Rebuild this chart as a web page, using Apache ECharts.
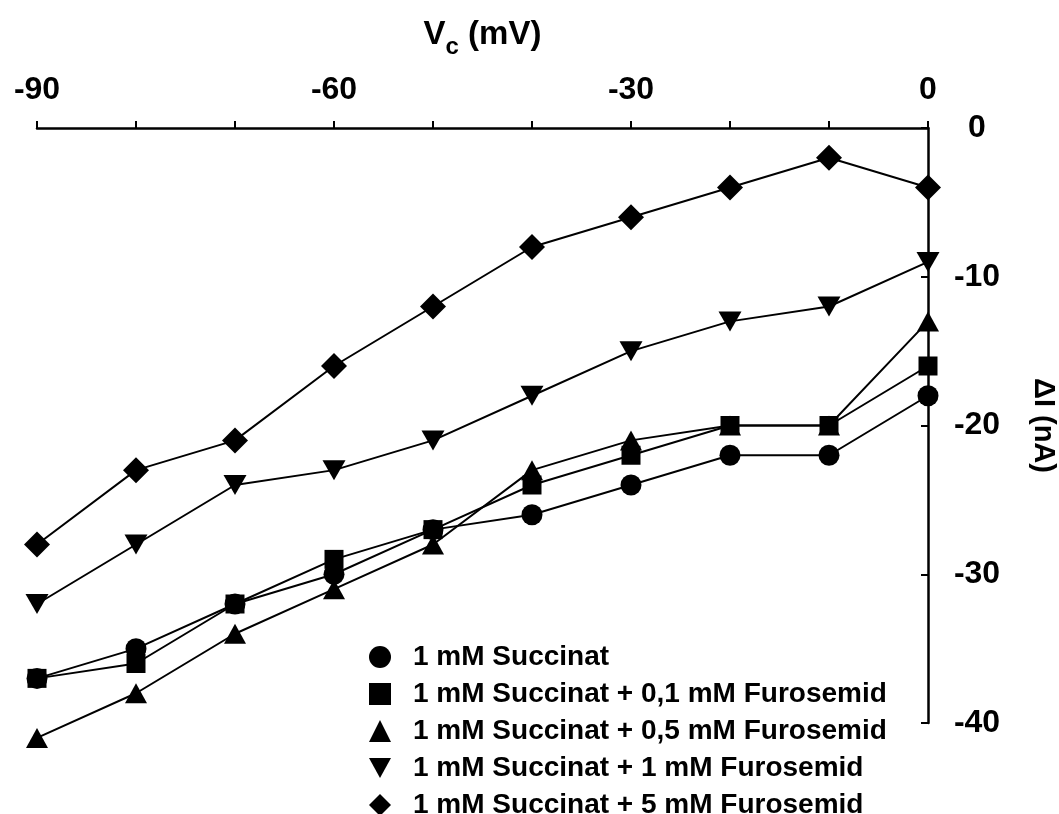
<!DOCTYPE html>
<html>
<head>
<meta charset="utf-8">
<script src="https://cdn.jsdelivr.net/npm/echarts@6/dist/echarts.min.js"></script>
<style>
html,body{margin:0;padding:0;background:#fff;}
#chart{width:1059px;height:814px;}
</style>
</head>
<body>
<div id="chart"></div>
<script>
// Data
const vc = [-90, -80, -70, -60, -50, -40, -30, -20, -10, 0];
const succinat = [-37, -35, -32, -30, -27, -26, -24, -22, -22, -18];
const furo01 = [-37, -36, -32, -29, -27, -24, -22, -20, -20, -16];
const furo05 = [-41, -38, -34, -31, -28, -23, -21, -20, -20, -13];
const furo1 = [-32, -28, -24, -23, -21, -18, -15, -13, -12, -9];
const furo5 = [-28, -23, -21, -16, -12, -8, -6, -4, -2, -4];
const seriesNames = [
  '1 mM Succinat',
  '1 mM Succinat + 0,1 mM Furosemid',
  '1 mM Succinat + 0,5 mM Furosemid',
  '1 mM Succinat + 1 mM Furosemid',
  '1 mM Succinat + 5 mM Furosemid'
];
const seriesValues = [succinat, furo01, furo05, furo1, furo5];
const symbols = ['circle', 'rect', 'triangle', 'path://M0,0 L10,0 L5,9 Z', 'diamond'];
const symbolSizes = [21, 19, [22, 20], [23, 20], 26];

const FONT = '"Liberation Sans", Arial, sans-serif';
const chart = echarts.init(document.getElementById('chart'));

const series = seriesNames.map((name, i) => ({
  name: name,
  type: 'line',
  data: vc.map((x, j) => [x, seriesValues[i][j]]),
  symbol: symbols[i],
  symbolSize: symbolSizes[i],
  showAllSymbol: true,
  clip: false,
  lineStyle: { color: '#000', width: 2 },
  itemStyle: { color: '#000' },
  z: 3 + i,
  animation: false
}));

chart.setOption({
  backgroundColor: '#fff',
  animation: false,
  grid: { left: 37, right: 131, top: 128, bottom: 91, containLabel: false, outerBoundsMode: 'none' },
  legend: {
    orient: 'vertical',
    left: 369,
    top: 642,
    height: 220,
    padding: 0,
    itemWidth: 22,
    itemHeight: 22,
    itemGap: 7,
    data: seriesNames.map((n, i) => ({ name: n, icon: symbols[i] })),
    textStyle: {
      fontFamily: FONT,
      fontWeight: 'bold',
      fontSize: 28,
      color: '#000',
      lineHeight: 30,
      padding: [0, 0, 0, 17]
    },
    itemStyle: { color: '#000' },
    lineStyle: { width: 0 }
  },
  xAxis: {
    type: 'value',
    position: 'top',
    min: -90,
    max: 0,
    interval: 30,
    name: '{a|V}{b|c}{a| (mV)}',
    nameLocation: 'middle',
    nameGap: 77,
    nameTextStyle: {
      rich: {
        a: { fontFamily: FONT, fontWeight: 'bold', fontSize: 33, color: '#000', verticalAlign: 'bottom' },
        b: { fontFamily: FONT, fontWeight: 'bold', fontSize: 24, color: '#000', verticalAlign: 'bottom', padding: [0, 0, -8, 0] }
      }
    },
    axisLine: { onZero: false, lineStyle: { color: '#000', width: 2.5 } },
    axisTick: { show: true, inside: false, length: 7, lineStyle: { color: '#000', width: 2 } },
    minorTick: { show: true, splitNumber: 3, length: 7, lineStyle: { color: '#000', width: 2 } },
    splitLine: { show: false },
    minorSplitLine: { show: false },
    axisLabel: { fontFamily: FONT, fontWeight: 'bold', fontSize: 32, color: '#000', margin: 22 }
  },
  yAxis: {
    type: 'value',
    position: 'right',
    min: -40,
    max: 0,
    interval: 10,
    name: 'ΔI (nA)',
    nameLocation: 'middle',
    nameRotate: -90,
    nameGap: 100,
    nameTextStyle: { fontFamily: FONT, fontWeight: 'bold', fontSize: 29, color: '#000' },
    axisLine: { onZero: false, lineStyle: { color: '#000', width: 2.5 } },
    axisTick: { show: true, inside: true, length: 7, lineStyle: { color: '#000', width: 2 } },
    splitLine: { show: false },
    axisLabel: { fontFamily: FONT, fontWeight: 'bold', fontSize: 32, color: '#000', margin: 49, align: 'center' }
  },
  series: series
});
</script>
</body>
</html>
